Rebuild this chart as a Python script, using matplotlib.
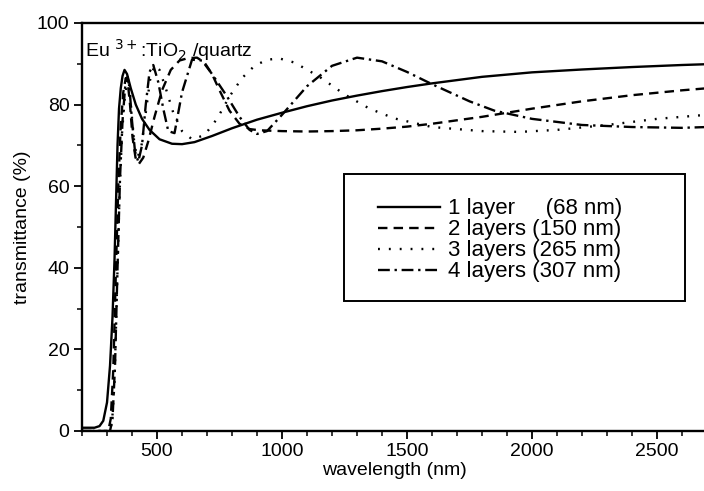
import matplotlib
matplotlib.use("Agg")
import matplotlib.pyplot as plt
from matplotlib.patches import Rectangle
import numpy as np

plt.rcParams['font.family'] = ['Liberation Sans', 'DejaVu Sans']

# 1 layer (68 nm)
wl1 = [200, 250, 270, 285, 300, 312, 322, 330, 336, 342, 348, 355, 362, 370, 380, 395, 415, 440, 470, 510, 560, 600, 650,
       720, 800, 900, 1000, 1100, 1200, 1300, 1400, 1500, 1600, 1800, 2000, 2200, 2400, 2600, 2700]
t1 = [0.8, 0.8, 1.2, 2.5, 7, 16, 28, 42, 56, 70, 79, 84, 87, 88.5, 87.5, 84, 80, 76.5, 73.8, 71.5, 70.4, 70.3, 70.8,
      72.3, 74.2, 76.3, 78, 79.6, 81, 82.2, 83.3, 84.3, 85.2, 86.8, 87.9, 88.6, 89.2, 89.7, 89.9]

# 2 layers (150 nm)
wl2 = [200, 305, 315, 325, 335, 345, 355, 365, 375, 383, 392, 402, 414, 428, 445, 465, 490, 520, 555, 590, 625, 660,
       690, 720, 750, 790, 830, 870, 910, 1000, 1100, 1200, 1300, 1400, 1500, 1600, 1800, 2000, 2200, 2400, 2600, 2700]
t2 = [0, 0, 3, 15, 38, 60, 75, 83, 86.5, 85.5, 80, 72, 67, 65.5, 67, 71, 77, 83.5, 88.5, 90.8, 91.4, 91.5,
      90.3, 87.5, 83.5, 78.5, 75.3, 74, 73.7, 73.5, 73.4, 73.5, 73.7, 74.1, 74.6, 75.3, 77, 79, 80.8, 82.3, 83.5, 84]

# 3 layers (265 nm)
wl3 = [200, 310, 320, 330, 340, 350, 360, 370, 380, 388, 398, 410, 422, 438, 455, 472, 490, 510, 535, 565, 600, 640,
       690, 740, 790, 840, 890, 940, 990, 1050, 1150, 1250, 1350, 1450, 1600, 1800, 1950, 2100, 2300, 2500, 2700]
t3 = [0, 0, 2, 12, 35, 58, 73, 81, 85.5, 85, 78, 70, 67, 70, 78, 86, 89.6, 88.5, 84, 78, 73.5, 71.5,
      72.5, 76.5, 82, 86.5, 89.5, 91, 91.3, 90.3, 86.8, 82.5, 79, 76.6, 74.5, 73.5, 73.3, 73.8, 75, 76.5, 77.5]

# 4 layers (307 nm)
wl4 = [200, 312, 322, 332, 342, 352, 362, 372, 382, 390, 400, 412, 425, 440, 455, 470, 485, 505, 525, 545, 570, 600,
       640, 680, 720, 780, 830, 870, 900, 940, 1000, 1100, 1200, 1300, 1400, 1500, 1600, 1750, 1850, 2000, 2200, 2400,
       2600, 2700]
t4 = [0, 0, 3, 16, 40, 62, 76, 84, 86.8, 84, 76, 68.5, 66, 70, 80, 88, 89.7, 85.5, 79, 73.5, 73, 83,
      91, 90.8, 87.5, 82, 77, 73.8, 72.8, 73.5, 77.5, 84.5, 89.5, 91.5, 90.6, 88, 85, 80.8, 78.5, 76.5, 75, 74.5,
      74.3, 74.5]

labels = ["1 layer     (68 nm)", "2 layers (150 nm)", "3 layers (265 nm)", "4 layers (307 nm)"]

fig = plt.figure(figsize=(7.04, 4.91), dpi=100)
ax = fig.add_axes([0.1165, 0.1222, 0.8878, 0.831])

lw = 1.7
ax.plot(wl1, t1, color='black', lw=lw, ls='-', label=labels[0])
ax.plot(wl2, t2, color='black', lw=lw, ls=(0, (4, 2.6)), label=labels[1])
ax.plot(wl3, t3, color='black', lw=lw, ls=(0, (0.8, 3.8)), label=labels[2])
ax.plot(wl4, t4, color='black', lw=lw, ls=(0, (5, 2, 1, 2)), label=labels[3])

ax.set_xlim(200, 2700)
ax.set_ylim(0, 100)
ax.set_xticks([500, 1000, 1500, 2000, 2500])
ax.set_xticks(np.arange(200, 2701, 100), minor=True)
ax.set_yticks([0, 20, 40, 60, 80, 100])
ax.set_yticks(np.arange(0, 101, 10), minor=True)
ax.tick_params(which='major', direction='out', length=6, width=1.3, labelsize=14, pad=3)
ax.tick_params(which='minor', direction='out', length=3.5, width=1.1)
for s in ax.spines.values():
    s.set_linewidth(1.7)

ax.set_xlabel("wavelength (nm)", fontsize=14, labelpad=1)
ax.set_ylabel("transmittance (%)", fontsize=14, labelpad=4)

ax.text(0.005, 0.965, r"Eu $^{\rm 3+}$:TiO$_{\rm 2}$ /quartz", transform=ax.transAxes,
        fontsize=14, va='top', ha='left')

# legend box drawn separately so the padding can be asymmetric like the original
ax.add_patch(Rectangle((0.419, 0.318), 0.546, 0.312, transform=ax.transAxes,
                       facecolor='white', edgecolor='black', lw=1.4, zorder=4))
leg = ax.legend(loc='upper left', bbox_to_anchor=(0.4736, 0.57), fontsize=16,
                frameon=False, handlelength=2.8, handletextpad=0.35, labelspacing=0.0,
                borderpad=0, borderaxespad=0)
leg.set_zorder(5)

fig.savefig("out.png", dpi=100)
